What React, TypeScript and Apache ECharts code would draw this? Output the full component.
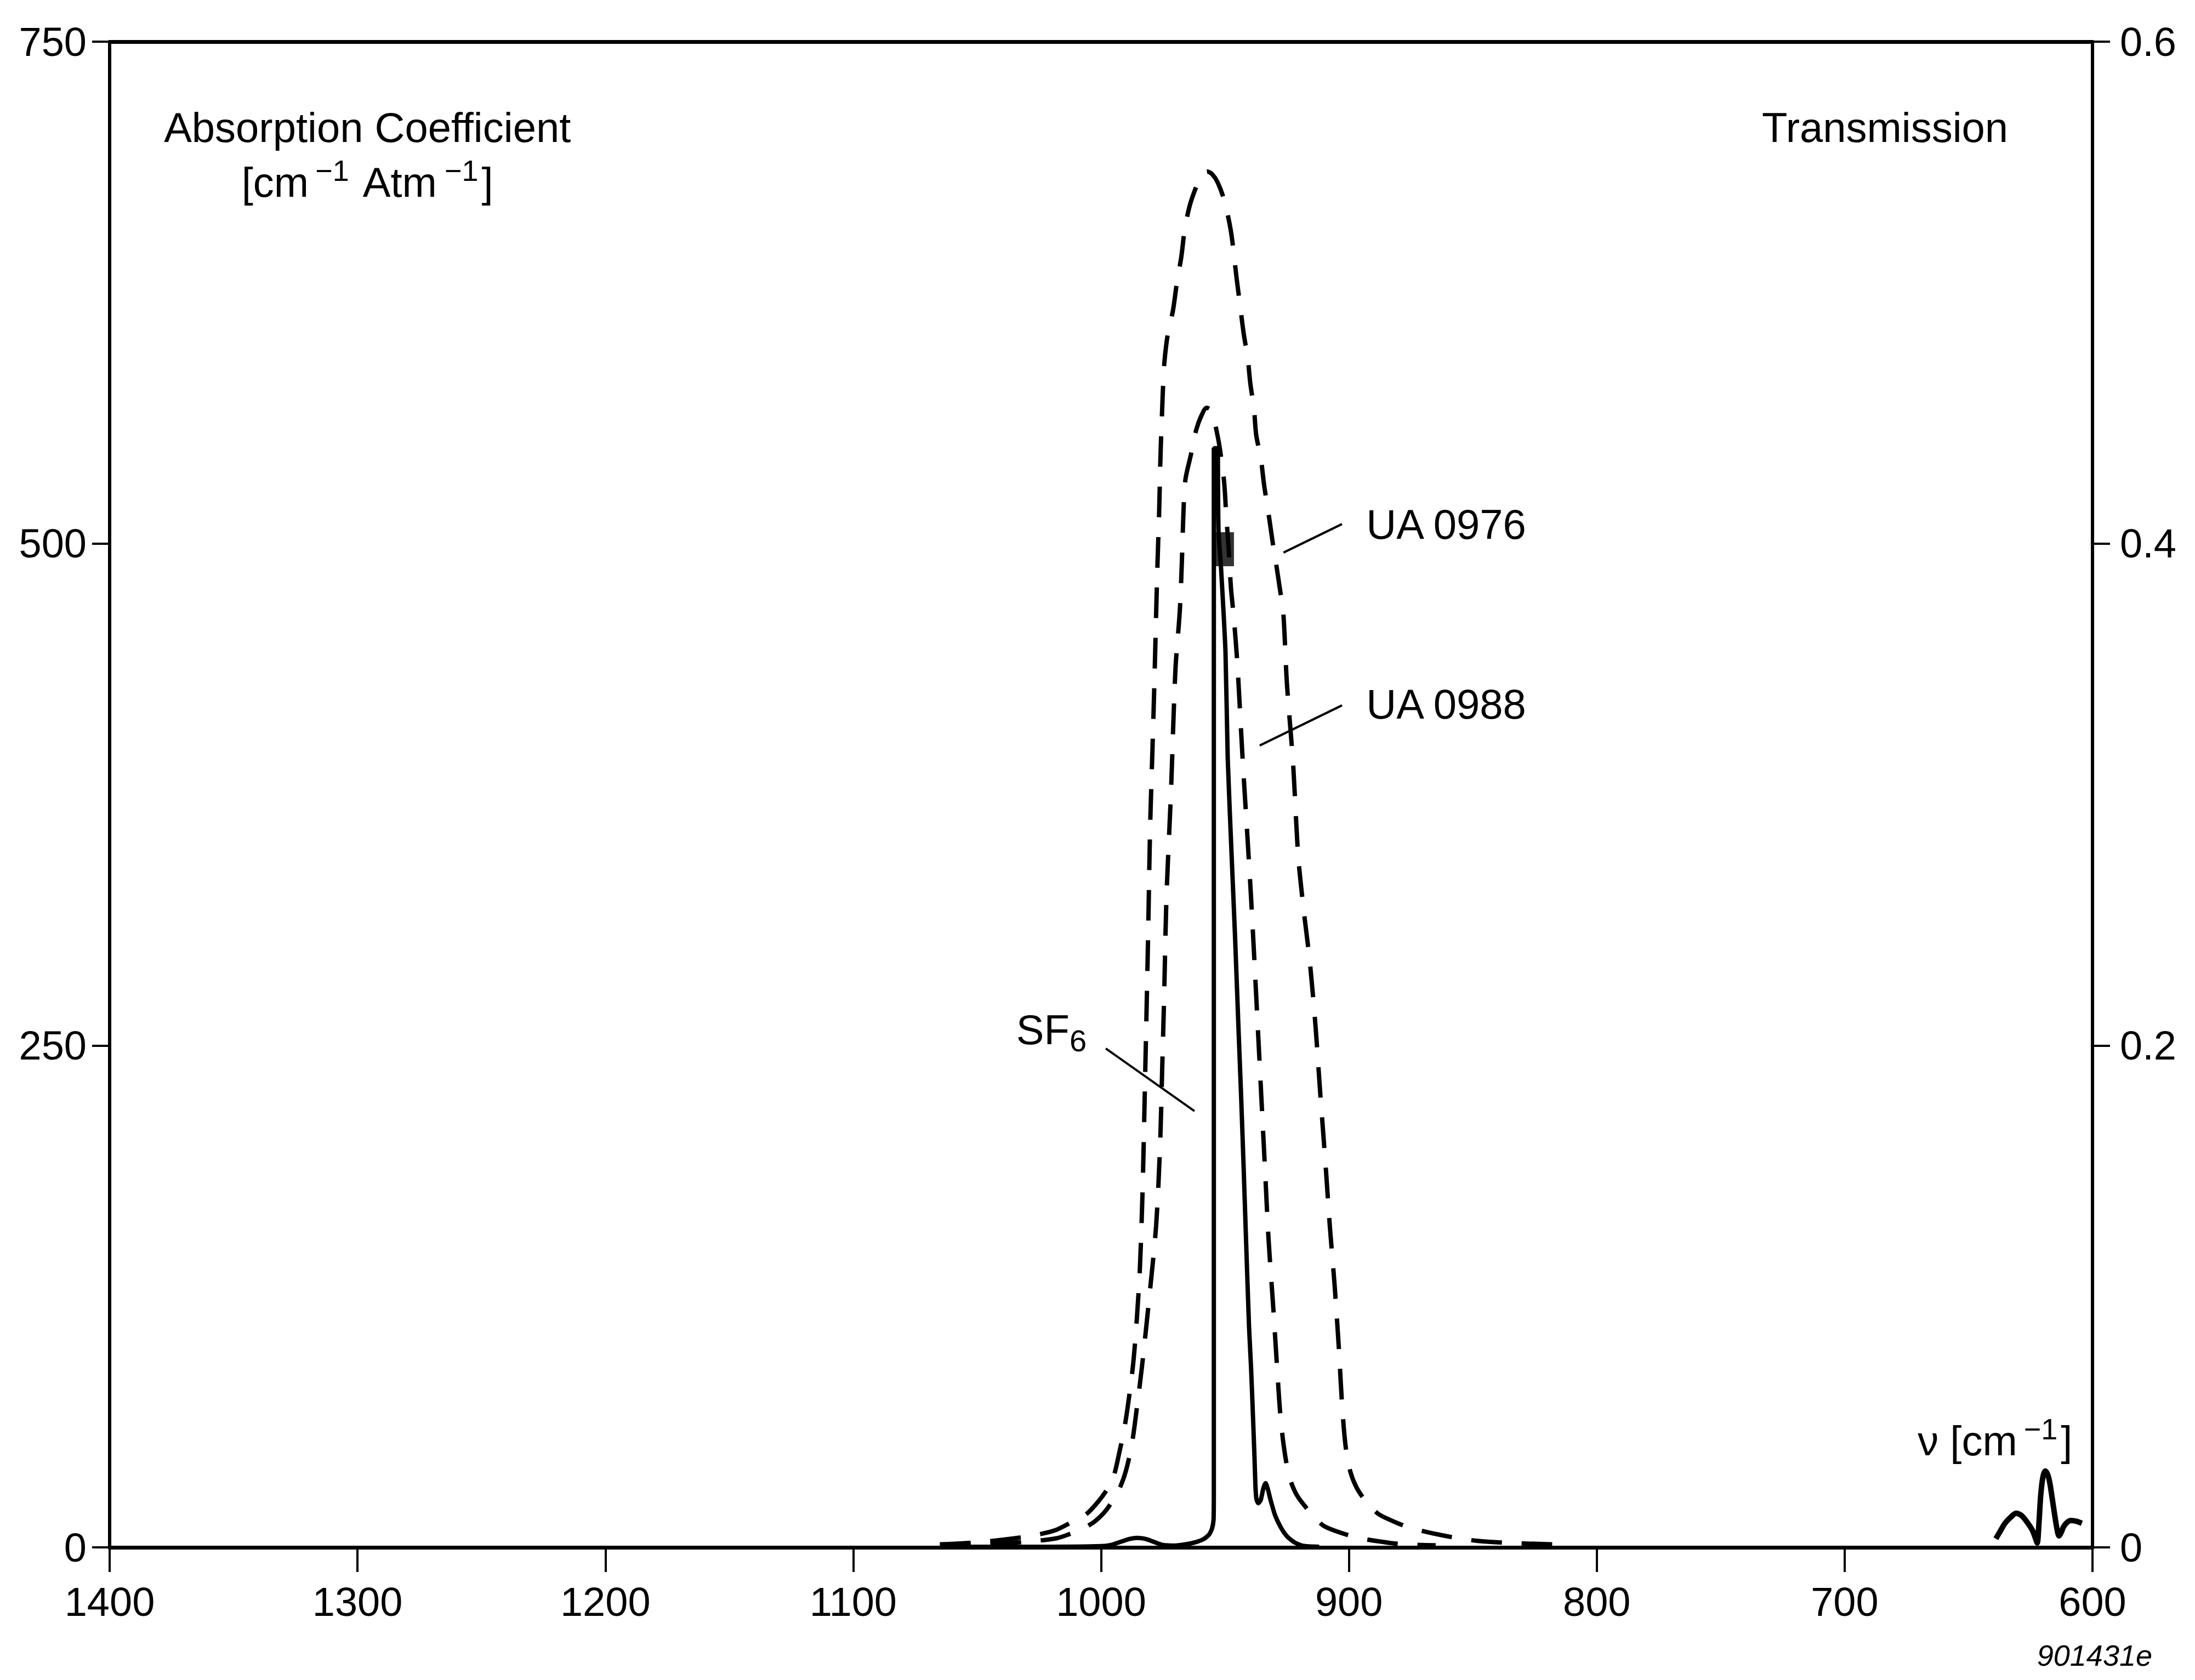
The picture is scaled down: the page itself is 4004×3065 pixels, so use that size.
import React, { useEffect, useRef } from "react";
import * as echarts from "echarts";

// Canvas size
const WIDTH = 4004;
const HEIGHT = 3065;

// Axis ranges (wavenumber axis runs right-to-left)
const NU_MIN = 600;
const NU_MAX = 1400;
const NU_STEP = 100;
const ABS_MAX = 750;
const ABS_STEP = 250;
const TRANS_MAX = 0.6;
const TRANS_STEP = 0.2;

// Absorption coefficient spectra: [wavenumber cm^-1, cm^-1 Atm^-1]
const ua0976 = [
  [1065, 1.5], [1050, 2.5], [1035, 4.5], [1025, 6.5], [1018.5, 8.5], [1012, 12.5],
  [1006, 16.5], [1001, 23], [997.5, 29], [995, 35], [992.5, 48], [990.5, 60],
  [988.8, 74], [987, 92], [985.5, 115], [984.3, 140], [983.2, 180], [982.3, 230],
  [981.6, 270], [981, 306], [980.2, 359], [979.2, 400], [978.5, 430], [977.8, 464],
  [977.4, 483], [977, 499], [976.6, 514], [976.1, 540], [975.8, 552], [975.4, 565],
  [975.0, 578], [974.4, 591], [973, 605], [971, 616], [969.4, 630], [967.6, 643],
  [966.3, 656], [964.3, 668], [961.5, 678], [959.2, 683.5], [957.2, 685.3], [955.2, 684],
  [953, 680], [950.3, 671], [947.6, 655.5], [945.3, 632], [944, 619.5], [942.5, 605],
  [940.8, 592], [939.8, 580], [938.3, 567], [937.4, 554], [935.6, 543], [934.2, 529],
  [932.8, 518], [930.8, 501], [929.5, 491], [927.8, 477], [926.5, 466], [925, 430],
  [922.5, 390], [920.5, 345], [918.3, 318], [915.8, 292], [913.5, 260], [911.5, 225],
  [909.5, 192], [907.7, 160], [905.8, 131], [904.1, 100], [902.7, 70], [901.3, 50],
  [899.5, 38], [897, 30], [893.5, 23.5], [888.5, 17], [884, 14], [876, 10],
  [868, 7.5], [858, 5], [848, 3.2], [835, 2.2], [818, 1.5],
];

const ua0988 = [
  [1065, 1], [1045, 1.8], [1030, 2.8], [1018, 4.5], [1013, 6.5], [1008, 9],
  [1003, 12.5], [999, 17], [996.5, 21], [993, 28], [990, 38], [987.5, 52],
  [985.5, 70], [983.5, 90], [980.5, 125], [977.8, 160], [976.2, 200], [975.3, 240],
  [974.6, 272], [973.6, 324], [971.8, 376], [970, 437], [968.2, 467], [967.4, 491],
  [966.8, 514], [966, 531.6], [963.8, 544], [961.6, 556.7], [959.4, 564], [957.4, 567.6],
  [955.4, 566], [953.2, 555], [951.9, 545.8], [950.3, 530], [949.5, 514], [948.6, 499],
  [947.6, 478], [946.5, 464], [945, 440], [942.9, 393], [941, 355], [939.5, 324],
  [938, 289], [936.6, 255], [935.2, 221], [933.8, 187], [932.4, 153], [930.5, 119],
  [929, 90], [927.6, 65], [926, 48], [924, 35], [921, 26], [916, 18],
  [910.5, 11], [905, 8], [897, 5], [888, 3], [878, 1.5], [865, 1],
];

// SF6 nu3 band
const sf6Band = [
  [1060, 0.3], [1020, 0.3], [1000, 0.6], [996, 1.2], [992, 2.8], [988.5, 4.2],
  [985.3, 4.7], [981.5, 4.0], [978, 2.4], [975, 1.2], [970, 0.9], [966, 1.5],
  [961.5, 2.7], [958.5, 4.2], [956.4, 6.4], [955.2, 9.5], [954.6, 14], [954.5, 30],
  [954.5, 547.5], [953, 547.5], [952.8, 525], [952.6, 506], [951.6, 488], [949.8, 446],
  [948.9, 393], [947.2, 341], [946.0, 306], [944.6, 260], [943.5, 225], [942.5, 190],
  [941.5, 153], [940.3, 110], [939.5, 90], [938.7, 65], [938.1, 45], [937.7, 30],
  [937.3, 24], [936.6, 22], [935.6, 23.5], [934.5, 29.5], [933.6, 32], [932.7, 29],
  [931.7, 24], [929.8, 16], [927.5, 10], [925, 5.5], [922, 2.5], [918.5, 0.8],
  [912, 0.3],
];

// Q-branch block of the SF6 band
const sf6QBranch = [[950.8, 497.2]];

// SF6 nu4 band
const sf6Nu4 = [
  [639, 4.3], [637, 8.5], [635.3, 12], [633, 15], [630.8, 17], [628.8, 16],
  [627.2, 13.9], [625.5, 11], [624.2, 8.4], [623, 4.5], [622.3, 2.2], [621.6, 12],
  [620.9, 25.7], [620, 35], [619, 38], [618, 36], [617.2, 32], [616.2, 24],
  [615.3, 16.6], [614.3, 9], [613.5, 5.7], [612.6, 7.5], [611.7, 10.2], [610.2, 12.5],
  [608.7, 13.4], [606.5, 13], [604.3, 12],
];

// Leader lines from curve labels to curves, in data coordinates
const leaderLines = [
  { from: [926.4, 495.5], to: [902.8, 509.7] },
  { from: [936.0, 399.4], to: [902.8, 419.4] },
  { from: [998.1, 248.5], to: [962.3, 217.3] },
];

const curveLabels = [
  { text: "UA 0976", at: [893, 509.5] },
  { text: "UA 0988", at: [893, 420] },
];

const sf6LabelAt = [1034.2, 258];
const absTitleAt = [[1296, 707.4], [1296, 680]];
const transTitleAt = [683.7, 707.4];
const nuTitleAt = [670.5, 53.2];

const FONT = "'Liberation Sans', Arial, Helvetica, sans-serif";
const INK = "#000";
const TEXT_SIZE = 76;

const sup = { fontSize: 54, fontFamily: FONT, fill: INK, lineHeight: 44, verticalAlign: "top", padding: [0, 6, 0, 12] };
const base = { fontSize: TEXT_SIZE, fontFamily: FONT, fill: INK, lineHeight: 96 };

export default function App() {
  const ref = useRef<HTMLDivElement>(null);

  useEffect(() => {
    const el = ref.current;
    if (!el) return;
    const chart = echarts.init(el, null, { renderer: "svg", width: WIDTH, height: HEIGHT });

    const axisLabel = { color: INK, fontSize: 74, fontFamily: FONT };
    const dashed = { color: INK, width: 8, type: [56, 36], cap: "butt" };

    chart.setOption({
      animation: false,
      backgroundColor: "#fff",
      grid: { left: 200, right: 187, top: 76, bottom: 242, containLabel: false },
      xAxis: [
        {
          type: "value", min: NU_MIN, max: NU_MAX, interval: NU_STEP, inverse: true, position: "bottom",
          axisLine: { show: true, onZero: false, lineStyle: { color: INK, width: 7 } },
          axisTick: { show: true, inside: false, length: 45, lineStyle: { color: INK, width: 4 } },
          axisLabel: { ...axisLabel, margin: 62, formatter: (v: number) => String(v) },
          splitLine: { show: false },
        },
        {
          type: "value", min: NU_MIN, max: NU_MAX, interval: NU_STEP, inverse: true, position: "top",
          axisLine: { show: true, onZero: false, lineStyle: { color: INK, width: 7 } },
          axisTick: { show: false }, axisLabel: { show: false }, splitLine: { show: false },
        },
      ],
      yAxis: [
        {
          type: "value", min: 0, max: ABS_MAX, interval: ABS_STEP, position: "left",
          axisLine: { show: true, onZero: false, lineStyle: { color: INK, width: 6 } },
          axisTick: { show: true, inside: false, length: 32, lineStyle: { color: INK, width: 4 } },
          axisLabel: { ...axisLabel, margin: 42, showMinLabel: true, showMaxLabel: true, formatter: (v: number) => String(v) },
          splitLine: { show: false },
        },
        {
          type: "value", min: 0, max: TRANS_MAX, interval: TRANS_STEP, position: "right",
          axisLine: { show: true, onZero: false, lineStyle: { color: INK, width: 6 } },
          axisTick: { show: true, inside: false, length: 32, lineStyle: { color: INK, width: 4 } },
          axisLabel: {
            ...axisLabel, margin: 50, showMinLabel: true, showMaxLabel: true,
            formatter: (v: number) => (Math.abs(v) < 1e-9 ? "0" : v.toFixed(1)),
          },
          splitLine: { show: false },
        },
      ],
      series: [
        {
          type: "line", name: "UA 0976", data: ua0976, xAxisIndex: 0, yAxisIndex: 0,
          symbol: "none", smooth: 0.3, lineStyle: dashed, z: 3,
        },
        {
          type: "line", name: "UA 0988", data: ua0988, xAxisIndex: 0, yAxisIndex: 0,
          symbol: "none", smooth: 0.3, lineStyle: dashed, z: 3,
        },
        {
          type: "line", name: "SF6", data: sf6Band, xAxisIndex: 0, yAxisIndex: 0,
          symbol: "none", smooth: 0.2, lineStyle: { color: INK, width: 8 }, z: 4,
        },
        {
          type: "scatter", name: "SF6 Q", data: sf6QBranch, xAxisIndex: 0, yAxisIndex: 0,
          symbol: "rect", symbolSize: [40, 62], itemStyle: { color: INK }, z: 4,
        },
        {
          type: "line", name: "SF6 nu4", data: sf6Nu4, xAxisIndex: 0, yAxisIndex: 0,
          symbol: "none", smooth: 0.3, lineStyle: { color: INK, width: 10 }, z: 4,
        },
      ],
    });

    const toPx = (p: number[]) =>
      chart.convertToPixel({ xAxisIndex: 0, yAxisIndex: 0 }, p) as number[];

    const graphics: any[] = [];

    leaderLines.forEach((l) => {
      const a = toPx(l.from);
      const b = toPx(l.to);
      graphics.push({
        type: "line", z: 10,
        shape: { x1: a[0], y1: a[1], x2: b[0], y2: b[1] },
        style: { stroke: INK, lineWidth: 4 },
      });
    });

    curveLabels.forEach((c) => {
      const p = toPx(c.at);
      graphics.push({
        type: "text", x: p[0], y: p[1], z: 10,
        style: { text: c.text, fontSize: TEXT_SIZE, fontFamily: FONT, fill: INK, align: "left", verticalAlign: "middle" },
      });
    });

    const sfp = toPx(sf6LabelAt);
    graphics.push({
      type: "text", x: sfp[0], y: sfp[1], z: 10,
      style: {
        text: "{b|SF}{sub|6}", align: "left", verticalAlign: "middle",
        rich: {
          b: base,
          sub: { fontSize: 56, fontFamily: FONT, fill: INK, lineHeight: 36, verticalAlign: "bottom" },
        },
      },
    });

    const a1 = toPx(absTitleAt[0]);
    graphics.push({
      type: "text", x: a1[0], y: a1[1], z: 10,
      style: { text: "Absorption Coefficient", fontSize: TEXT_SIZE, fontFamily: FONT, fill: INK, align: "center", verticalAlign: "middle" },
    });
    const a2 = toPx(absTitleAt[1]);
    graphics.push({
      type: "text", x: a2[0], y: a2[1], z: 10,
      style: {
        text: "{b|[cm}{s|\u22121}{b| Atm}{s|\u22121}{b|]}", align: "center", verticalAlign: "middle",
        rich: { b: base, s: sup },
      },
    });

    const tp = toPx(transTitleAt);
    graphics.push({
      type: "text", x: tp[0], y: tp[1], z: 10,
      style: { text: "Transmission", fontSize: TEXT_SIZE, fontFamily: FONT, fill: INK, align: "center", verticalAlign: "middle" },
    });

    const np = toPx(nuTitleAt);
    graphics.push({
      type: "text", x: np[0], y: np[1], z: 10,
      style: {
        text: "{b|\u03BD [cm}{s|\u22121}{b|]}", align: "left", verticalAlign: "middle",
        rich: { b: base, s: sup },
      },
    });

    graphics.push({
      type: "text", right: 78, bottom: 18, z: 10,
      style: { text: "901431e", fontSize: 54, fontStyle: "italic", fontFamily: FONT, fill: INK },
    });

    chart.setOption({ graphic: graphics });

    return () => chart.dispose();
  }, []);

  return (
    <div
      ref={ref}
      style={{ position: "absolute", left: 0, top: 0, width: WIDTH, height: HEIGHT, background: "#fff" }}
    />
  );
}
